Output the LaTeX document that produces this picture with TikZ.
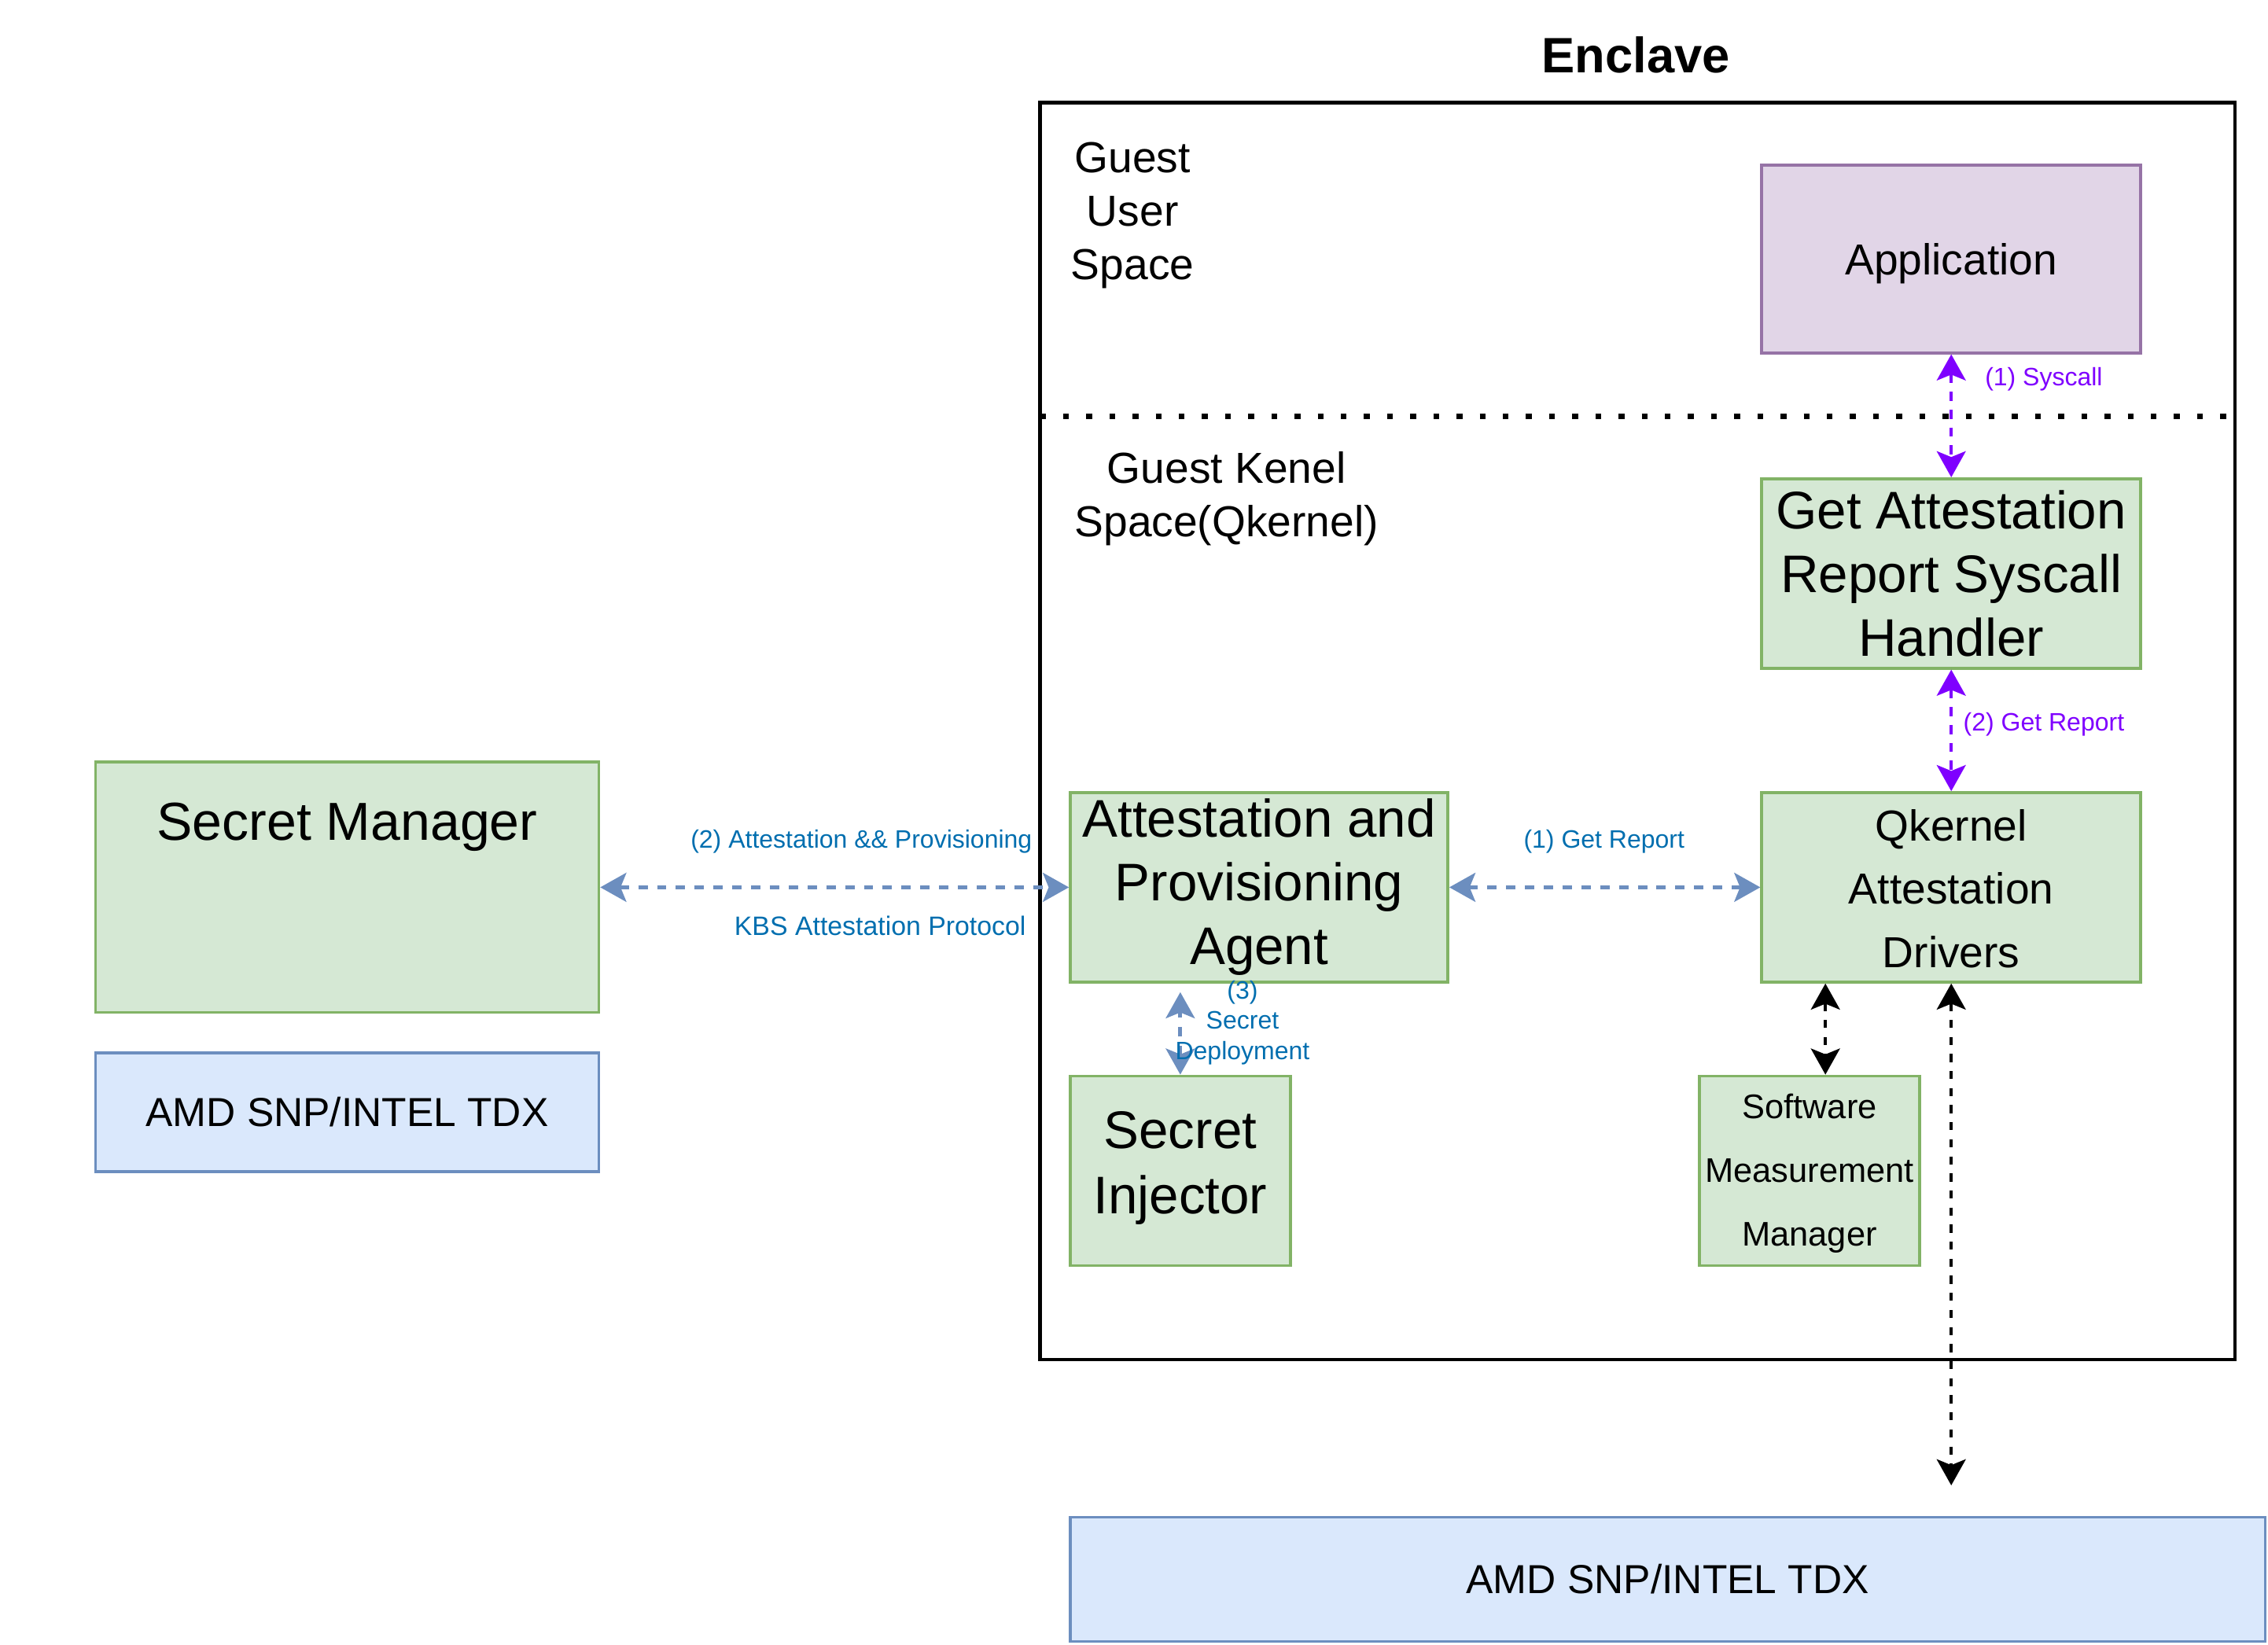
\documentclass[tikz,border=0pt]{standalone}
\usepackage{fontspec}
\setmainfont{Liberation Sans}
\usetikzlibrary{arrows.meta,fit}
\definecolor{gfill}{HTML}{D5E8D4}
\definecolor{gdraw}{HTML}{82B366}
\definecolor{pfill}{HTML}{E1D5E7}
\definecolor{pdraw}{HTML}{9673A6}
\definecolor{bfill}{HTML}{DAE8FC}
\definecolor{bdraw}{HTML}{6C8EBF}
\definecolor{btext}{HTML}{006EAF}
\definecolor{ptext}{HTML}{7F00FF}
\begin{document}
\begin{tikzpicture}[x=0.5pt,y=-0.5pt,
  box/.style={draw, line width=1pt, inner sep=0pt},
  gbox/.style={box, fill=gfill, draw=gdraw},
  pbox/.style={box, fill=pfill, draw=pdraw},
  bbox/.style={box, fill=bfill, draw=bdraw},
  txt/.style={align=center, inner sep=0pt},
  bigtxt/.style={txt, font=\fontsize{18.3}{22}\selectfont},
  midtxt/.style={txt, font=\fontsize{15}{22}\selectfont},
  spacetxt/.style={txt, font=\fontsize{15}{18.5}\selectfont},
  smalltxt/.style={txt, font=\fontsize{8.7}{10.5}\selectfont},
  tipstyle/.style={>={Stealth[length=9pt,width=10pt,inset=2pt]}, <->},
  parrow/.style={draw=ptext, line width=1.1pt, dash pattern=on 3.2pt off 3pt, tipstyle},
  barrow/.style={draw=bdraw, line width=1.3pt, dash pattern=on 3.25pt off 3.25pt, tipstyle},
  karrow/.style={draw=black, line width=1.2pt, dash pattern=on 2.8pt off 3.1pt, tipstyle}
]
\useasboundingbox (0,0) rectangle (1568,1137);

% Enclave
\node[fit={(719,71) (1545,940)}, draw=black, line width=1.2pt, inner sep=0pt] (enclave) {};
\node[font=\fontsize{17.2}{20}\selectfont\bfseries, inner sep=0pt] (title) at (1131,38) {Enclave};
\coordinate (dl) at (719,288);
\coordinate (dr) at (1545,288);
\draw[line width=2pt, dash pattern=on 2pt off 6pt] (dl) -- (dr);

\node[spacetxt] (gus) at (783,149) {Guest\\User\\Space};
\node[spacetxt] (gks) at (848,345) {Guest Kenel\\Space(Qkernel)};

% Boxes
\node[pbox, fit={(1218,114) (1480,244)}] (app) {};
\node[midtxt] (appt) at ([yshift=-1.5pt]app.center) {Application};
\node[gbox, fit={(1218,331) (1480,462)}] (gar) {};
\node[bigtxt] (gart) at (gar.center) {Get Attestation\\Report Syscall\\Handler};
\node[gbox, fit={(1218,548) (1480,679)}] (qad) {};
\node[midtxt] (qadt) at ([yshift=-0.5pt]qad.center) {Qkernel\\Attestation\\Drivers};
\node[gbox, fit={(740,548) (1001,679)}] (apa) {};
\node[bigtxt] (apat) at (apa.center) {Attestation and\\Provisioning\\Agent};
\node[gbox, fit={(66,527) (414,700)}] (sm) {};
\node[txt, font=\fontsize{18.5}{22}\selectfont] (smt) at (240,572) {Secret Manager};
\node[bbox, fit={(66,728) (414,810)}] (amdl) {};
\node[txt, font=\fontsize{14}{17}\selectfont] (amdlt) at (amdl.center) {AMD SNP/INTEL TDX};
\node[gbox, fit={(740,744) (892,875)}] (si) {};
\node[txt, font=\fontsize{18.3}{22.5}\selectfont] (sit) at ([yshift=1pt]si.center) {Secret\\Injector};
\node[gbox, fit={(1175,744) (1327,875)}] (smm) {};
\node[txt, font=\fontsize{11.8}{22}\selectfont] (smmt) at ([yshift=-1pt]smm.center) {Software\\Measurement\\Manager};
\node[bbox, fit={(740,1049) (1566,1135)}] (amdb) {};
\node[txt, font=\fontsize{14}{17}\selectfont] (amdbt) at (amdb.center) {AMD SNP/INTEL TDX};

% Connectors
\draw[parrow] (app.south) -- (gar.north);
\node[smalltxt, text=ptext] (l1) at (1413,262) {(1) Syscall};
\draw[parrow] (gar.south) -- (qad.north);
\node[smalltxt, text=ptext] (l2) at (1413,501) {(2) Get Report};

\draw[barrow] (sm.east) -- (apa.west);
\node[smalltxt, text=btext] (l3) at (595.5,582) {(2) Attestation \&\& Provisioning};
\node[txt, font=\fontsize{9.2}{11}\selectfont, text=btext] (l4) at (608.5,640) {KBS Attestation Protocol};

\draw[barrow] (apa.east) -- (qad.west);
\node[smalltxt, text=btext] (l5) at (1109,582) {(1) Get Report};

\draw[barrow, shorten >=3pt] (si.north) -- (si.north |- apa.south);
\node[smalltxt, text=btext] (l6) at (859,707) {(3)\\Secret\\Deployment};

\coordinate (ax) at (1262,0);
\draw[karrow] (qad.south -| ax) -- (smm.north -| ax);
\coordinate (bend) at (1349,1027);
\draw[karrow] (qad.south) -- (bend);
\end{tikzpicture}
\end{document}
